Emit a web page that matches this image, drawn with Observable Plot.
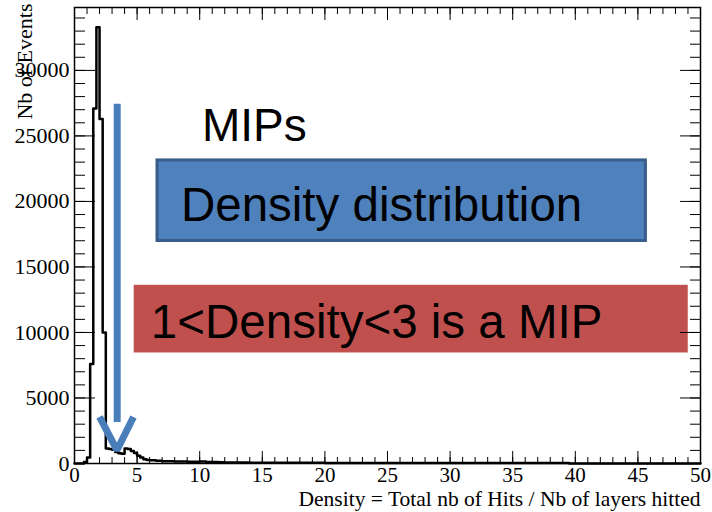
<!DOCTYPE html>
<html><head><meta charset="utf-8">
<script src="https://cdn.jsdelivr.net/npm/d3@7"></script>
<script src="https://cdn.jsdelivr.net/npm/@observablehq/plot@0.6"></script>
<style>body{margin:0;background:#fff} svg{display:block}</style>
</head><body><div id="chart"></div>
<script>
// Histogram bin edges (Density) and counts (Nb of Events)
const binEdges = [0, 0.75, 1.0, 1.25, 1.5, 1.75, 2.0, 2.25, 2.5, 2.75, 3.0, 3.25, 3.5, 3.75, 4.0, 4.25, 4.5, 4.75, 5.0, 5.25, 5.5, 5.75, 6.0, 6.5, 7.0, 7.5, 8.0, 8.5, 9.0, 9.5, 10, 10.5, 11, 11.5, 12, 14, 16, 18, 20, 25, 30, 35, 39.5, 50];
const binCounts = [0, 120, 450, 7600, 27100, 33300, 26300, 10000, 1150, 1100, 1050, 880, 780, 750, 1150, 1100, 950, 800, 600, 450, 330, 270, 240, 210, 180, 170, 160, 150, 140, 130, 150, 110, 120, 90, 70, 60, 55, 50, 45, 40, 35, 30, 0];

const xMajorTicks = [0, 5, 10, 15, 20, 25, 30, 35, 40, 45, 50];
const yMajorTicks = [0, 5000, 10000, 15000, 20000, 25000, 30000];
const xMinorTicks = d3.range(0, 51, 1);
const yMinorTicks = d3.range(0, 35000, 1000);

const xTitle = "Density = Total nb of Hits / Nb of layers hitted";
const yTitle = "Nb of Events";
const labelMIPs = "MIPs";
const labelBlue = "Density distribution";
const labelRed = "1<Density<3 is a MIP";

const histPoints = binCounts.map((c, i) => ({x: binEdges[i], y: c}));
histPoints.push({x: binEdges[binEdges.length - 1], y: binCounts[binCounts.length - 1]});

const serif = "Liberation Serif";
const sans = "Liberation Sans";
const blank = () => "";

const chart = Plot.plot({
  width: 712,
  height: 512,
  marginLeft: 74,
  marginRight: 12,
  marginTop: 7,
  marginBottom: 49,
  style: {background: "white", color: "black", fontFamily: serif},
  x: {domain: [0, 50]},
  y: {domain: [0, 34800]},
  marks: [
    // annotation boxes
    Plot.rect([{x1: 4.77, x2: 49.02, y1: 8435, y2: 13600}], {x1: "x1", x2: "x2", y1: "y1", y2: "y2", fill: "#C0504D"}),
    Plot.rect([{x1: 6.63, x2: 45.64, y1: 16980, y2: 23130}], {x1: "x1", x2: "x2", y1: "y1", y2: "y2", fill: "#4F81BD", stroke: "#385D8A", strokeWidth: 3}),
    // histogram outline
    Plot.line(histPoints, {x: "x", y: "y", curve: "step-after", stroke: "black", strokeWidth: 2.5}),
    // frame and inward ticks
    Plot.frame({stroke: "black", strokeWidth: 1.5}),
    Plot.axisY({ticks: yMinorTicks, anchor: "left", tickSize: -11, tickFormat: blank, label: null}),
    Plot.axisY({ticks: yMajorTicks, anchor: "left", tickSize: -21, tickFormat: blank, label: null}),
    Plot.axisY({ticks: yMinorTicks, anchor: "right", tickSize: -11, tickFormat: blank, label: null}),
    Plot.axisY({ticks: yMajorTicks, anchor: "right", tickSize: -21, tickFormat: blank, label: null}),
    Plot.axisX({ticks: xMinorTicks, anchor: "bottom", tickSize: -6, tickFormat: blank, label: null}),
    Plot.axisX({ticks: xMajorTicks, anchor: "bottom", tickSize: -12, tickFormat: blank, label: null}),
    Plot.axisX({ticks: xMinorTicks, anchor: "top", tickSize: -6, tickFormat: blank, label: null}),
    Plot.axisX({ticks: xMajorTicks, anchor: "top", tickSize: -12, tickFormat: blank, label: null}),
    // tick labels
    Plot.axisY({ticks: yMajorTicks, anchor: "left", tickSize: 0, tickPadding: 5, tickFormat: d => String(d), label: null, fontSize: 22, fontFamily: serif}),
    Plot.axisX({ticks: xMajorTicks, anchor: "bottom", tickSize: 0, tickPadding: 4, tickFormat: d => String(d), label: null, fontSize: 21, fontFamily: serif}),
    // axis titles
    Plot.text([xTitle], {frameAnchor: "bottom-right", textAnchor: "end", lineAnchor: "top", dy: 27, fontSize: 21.5, fontFamily: serif, fill: "black"}),
    Plot.text([yTitle], {frameAnchor: "top-left", rotate: -90, textAnchor: "end", dx: -58, dy: -4, fontSize: 22, fontFamily: serif, fill: "black"}),
    // annotation texts
    Plot.text([labelMIPs], {x: 10.18, y: 27080, textAnchor: "start", lineAnchor: "top", fontSize: 46, fontFamily: sans, fill: "black"}),
    Plot.text([labelBlue], {x: 8.5, y: 21100, textAnchor: "start", lineAnchor: "top", fontSize: 47.5, fontFamily: sans, fill: "black"}),
    Plot.text([labelRed], {x: 6.1, y: 12150, textAnchor: "start", lineAnchor: "top", fontSize: 47.5, fontFamily: sans, fill: "black"}),
    // blue arrow
    Plot.line([{x: 3.41, y: 27460}, {x: 3.41, y: 3170}], {x: "x", y: "y", stroke: "#4A7EBB", strokeWidth: 7, strokeLinecap: "butt"}),
    Plot.line([{x: 2.0, y: 3550}, {x: 3.39, y: 1015}, {x: 4.71, y: 3550}], {x: "x", y: "y", stroke: "#4A7EBB", strokeWidth: 7, strokeLinecap: "butt", strokeLinejoin: "miter"})
  ]
});
document.getElementById("chart").appendChild(chart);
</script>
</body></html>
